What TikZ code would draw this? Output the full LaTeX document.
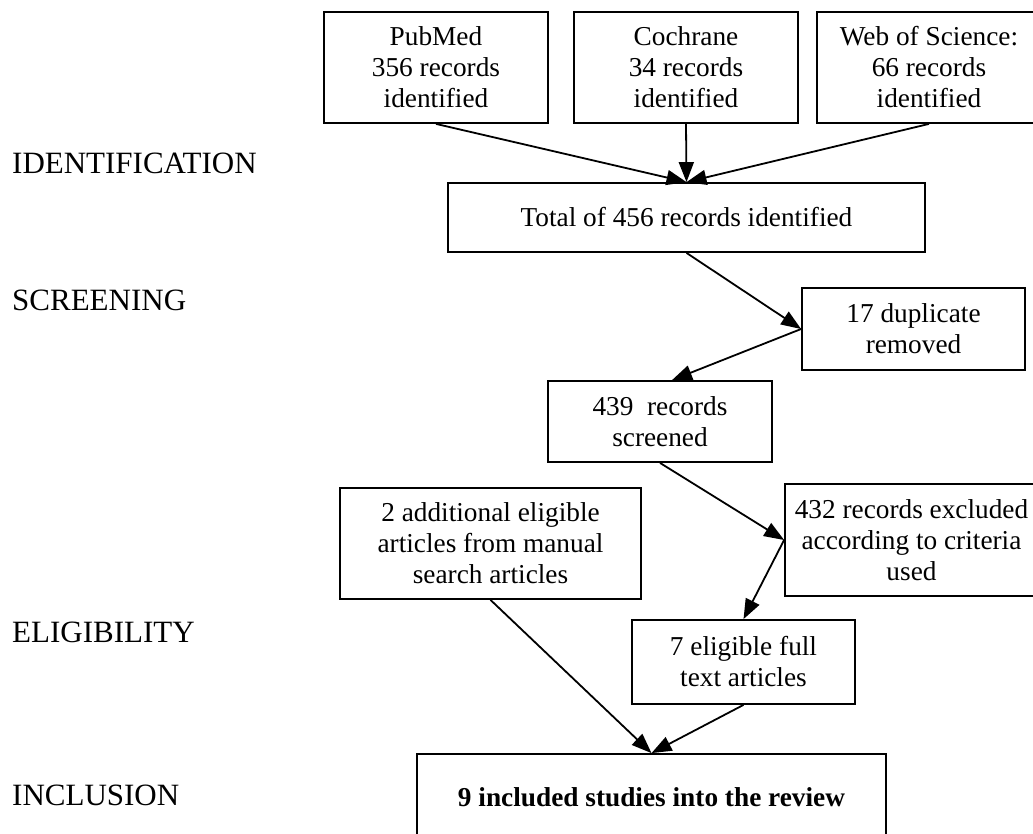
\documentclass[tikz,border=0pt]{standalone}
\usepackage{fontspec}
\setmainfont{Liberation Serif}
\usetikzlibrary{arrows.meta}
\begin{document}
\begin{tikzpicture}[x=1pt,y=-1pt,
  box/.style={draw, line width=1.8pt, align=center, inner sep=0pt, font=\fontsize{27.3}{31}\selectfont},
  arr/.style={-{Triangle[length=20pt,width=15pt]}, line width=1.8pt},
  lab/.style={anchor=west, inner sep=0pt, font=\fontsize{31}{34}\selectfont}]
\useasboundingbox (0,0) rectangle (1033,833);
% stage labels
\node[lab] (l1) at (12,163) {IDENTIFICATION};
\node[lab] (l2) at (12,300) {SCREENING};
\node[lab] (l3) at (12,632) {ELIGIBILITY};
\node[lab] (l4) at (12,795) {INCLUSION};
% boxes
\node[box, minimum width=224pt, minimum height=111pt] (pub) at (436,67.5) {PubMed\\356 records\\identified};
\node[box, minimum width=224pt, minimum height=111pt] (coc) at (686,67.5) {Cochrane\\34 records\\identified};
\node[box, minimum width=224pt, minimum height=111pt] (wos) at (929,67.5) {Web of Science:\\66 records\\identified};
\node[box, minimum width=477pt, minimum height=69pt] (tot) at (686.5,217.5) {Total of 456 records identified};
\node[box, minimum width=223pt, minimum height=82pt] (dup) at (913.5,329) {17 duplicate\\removed};
\node[box, minimum width=224pt, minimum height=81pt] (scr) at (660,421.5) {439~~records\\screened};
\node[box, minimum width=253pt, minimum height=112pt] (exc) at (911.5,540) {432 records excluded\\according to criteria\\used};
\node[box, minimum width=301pt, minimum height=111pt] (add) at (490.5,543.5) {2 additional eligible\\articles from manual\\search articles};
\node[box, minimum width=223pt, minimum height=84pt] (elig) at (743.5,662) {7 eligible full\\text articles};
\node[box, minimum width=469pt, minimum height=96pt] (inc) at (651.5,802) {\raisebox{10pt}{\bfseries 9 included studies into the review}};
% connectors
\draw[arr] (pub.south) -- (tot.north);
\draw[arr] (coc.south) -- (tot.north);
\draw[arr] (wos.south) -- (tot.north);
\draw[arr] (tot.south) -- (dup.west);
\draw[arr] (dup.west) -- ([xshift=12pt]scr.north);
\draw[arr] (scr.south) -- (exc.west);
\draw[arr] (exc.west) -- (elig.north);
\draw[arr] (add.south) -- (inc.north);
\draw[arr] (elig.south) -- (inc.north);
\end{tikzpicture}
\end{document}
